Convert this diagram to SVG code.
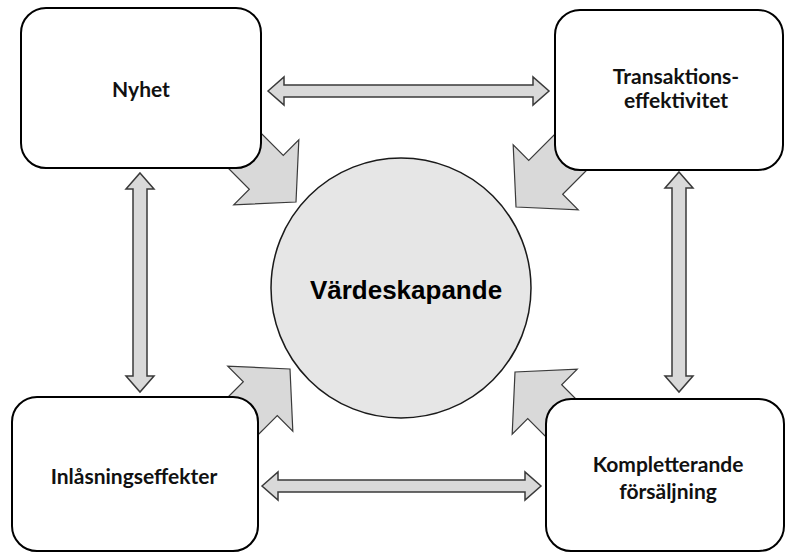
<svg xmlns="http://www.w3.org/2000/svg" width="786" height="553" viewBox="0 0 786 553">
<defs>
<style>
.box{fill:#ffffff;stroke:#000000;stroke-width:2}
.blk{fill:#d9d9d9;stroke:#3a3a3a;stroke-width:1.2;stroke-linejoin:miter}
.dbl{fill:#d9d9d9;stroke:#3a3a3a;stroke-width:1.5}
.lbl{font-family:Lato,"Open Sans","Liberation Sans",sans-serif;font-weight:700;font-size:21px;fill:#111;text-anchor:middle}
.ctr{font-family:"Liberation Sans",Arial,sans-serif;font-weight:700;font-size:26px;fill:#000;text-anchor:middle}
</style>
<path id="blockArrow" d="M0,0 L-42,-46 L-42,-24 L-95,-24 L-95,24 L-42,24 L-42,46 Z"/>
</defs>
<g id="connectors">
<use href="#blockArrow" class="blk" transform="translate(296,202) rotate(45)"/>
<use href="#blockArrow" class="blk" transform="translate(516,207) rotate(135)"/>
<use href="#blockArrow" class="blk" transform="translate(290,369) rotate(-45)"/>
<use href="#blockArrow" class="blk" transform="translate(515,372) rotate(-135)"/>
<path class="dbl" d="M268,91 L284,77 L284,85 L533,85 L533,77 L549,91 L533,105 L533,97 L284,97 L284,105 Z"/>
<path class="dbl" d="M262,486 L278,472 L278,480 L525,480 L525,472 L541,486 L525,500 L525,492 L278,492 L278,500 Z"/>
<path class="dbl" d="M140,173 L154,189 L147,189 L147,376 L154,376 L140,392 L126,376 L133,376 L133,189 L126,189 Z"/>
<path class="dbl" d="M679,172 L693,188 L686,188 L686,376 L693,376 L679,392 L665,376 L672,376 L672,188 L665,188 Z"/>
</g>
<g id="node-center">
<circle cx="401" cy="288" r="130" fill="#e6e6e6" stroke="#1a1a1a" stroke-width="1.5"/>
<text class="ctr" x="406" y="299">Värdeskapande</text>
</g>
<g id="node-nyhet">
<rect class="box" x="21" y="8" width="240" height="160" rx="25"/>
<text class="lbl" x="141" y="97">Nyhet</text>
</g>
<g id="node-transaktion">
<rect class="box" x="555" y="10" width="228" height="160" rx="25"/>
<text class="lbl" x="676" y="84">Transaktions-</text>
<text class="lbl" x="676" y="108">effektivitet</text>
</g>
<g id="node-inlasning">
<rect class="box" x="12" y="397" width="246" height="154" rx="25"/>
<text class="lbl" x="134" y="484">Inlåsningseffekter</text>
</g>
<g id="node-kompletterande">
<rect class="box" x="546" y="399" width="238" height="152" rx="25"/>
<text class="lbl" x="668" y="472">Kompletterande</text>
<text class="lbl" x="668" y="499">försäljning</text>
</g>
</svg>
